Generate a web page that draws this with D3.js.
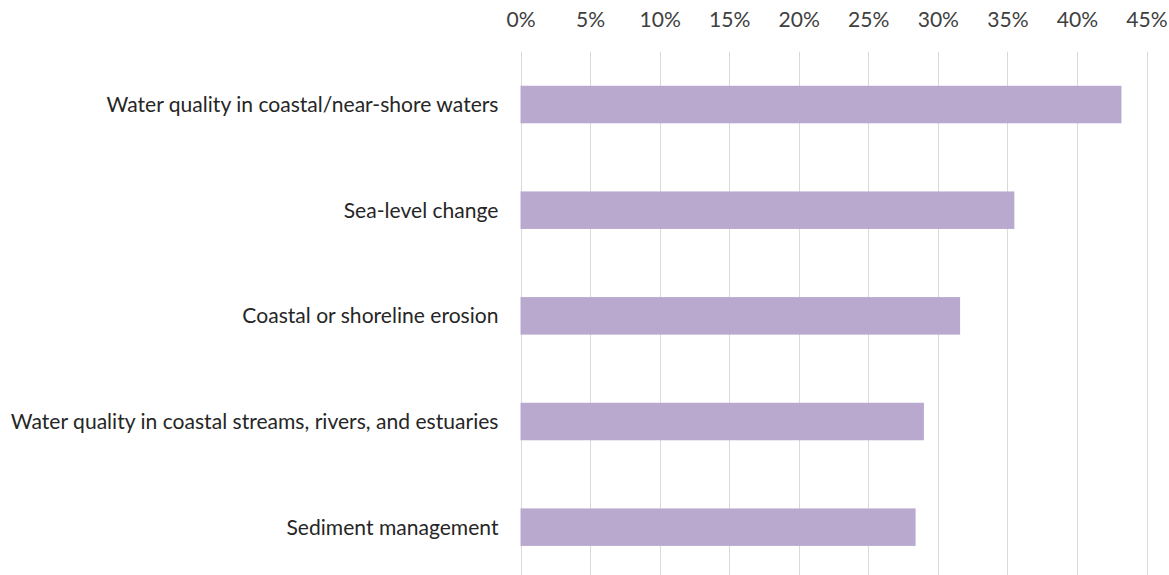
<!DOCTYPE html>
<html><head><meta charset="utf-8">
<script src="https://cdn.jsdelivr.net/npm/d3@7"></script>
<style>
html,body{margin:0;padding:0;background:#fff;}
svg{display:block;}
</style></head>
<body>
<svg id="chart" width="1169" height="575"></svg>
<script>
const categories = [
  "Water quality in coastal/near-shore waters",
  "Sea-level change",
  "Coastal or shoreline erosion",
  "Water quality in coastal streams, rivers, and estuaries",
  "Sediment management"
];
const values = [43.2, 35.5, 31.6, 29.0, 28.4];
const tickValues = [0, 5, 10, 15, 20, 25, 30, 35, 40, 45];

const svg = d3.select("#chart");
const margin = {left: 520.5, right: 1169 - 1146.5, top: 51.7, bottom: 575 - 580};
const x = d3.scaleLinear().domain([0, 45]).range([margin.left, 1146.5]);
const y = d3.scaleBand().domain(categories).range([51.7, 580]).paddingInner(0.645).paddingOuter(0.3225);

const font = "Lato, 'Open Sans', sans-serif";
// fit font-size so the longest label spans the reference width
const probe = svg.append("text").attr("font-family", font).attr("font-size", 18).text(categories[3]);
const w = probe.node().getComputedTextLength();
probe.remove();
const fs = 18 * 488 / w;

// gridlines
svg.append("g").selectAll("line").data(tickValues).join("line")
  .attr("x1", d => Math.round(x(d)) + 0.5).attr("x2", d => Math.round(x(d)) + 0.5)
  .attr("y1", 51.7).attr("y2", 580)
  .attr("stroke", "#d9d9d9").attr("stroke-width", 1);

// bars
svg.append("g").selectAll("rect").data(values).join("rect")
  .attr("x", x(0)).attr("y", (d, i) => y(categories[i]))
  .attr("width", d => x(d) - x(0)).attr("height", y.bandwidth())
  .attr("fill", "#b9a9cf");

// top axis labels
const xAxis = d3.axisTop(x).tickValues(tickValues).tickFormat(d => d + "%").tickSize(0).tickPadding(0);
const gx = svg.append("g").attr("transform", "translate(0,27)").call(xAxis);
gx.select(".domain").remove();
gx.selectAll("text").attr("font-family", font).attr("font-size", fs).attr("fill", "#404040");

// category labels
const yAxis = d3.axisLeft(y).tickSize(0).tickPadding(22);
const gy = svg.append("g").attr("transform", `translate(${margin.left},0)`).call(yAxis);
gy.select(".domain").remove();
gy.selectAll("text").attr("font-family", font).attr("font-size", fs).attr("fill", "#262626").attr("dy", "0.35em");
</script>
</body></html>
